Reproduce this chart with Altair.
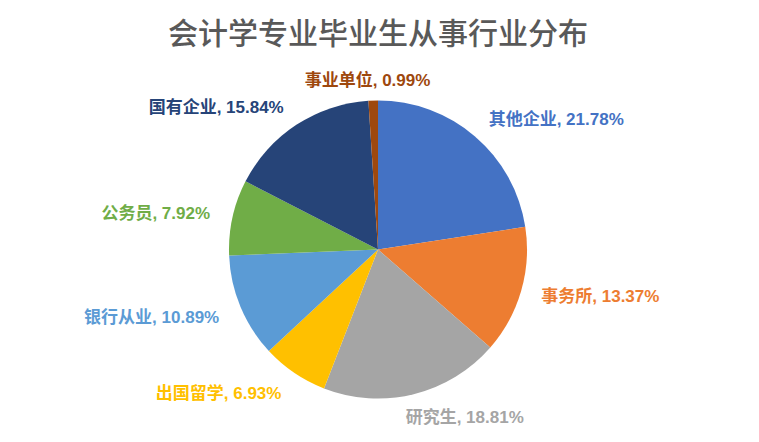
import altair as alt
import pandas as pd

categories = ["其他企业", "事务所", "研究生", "出国留学", "银行从业", "公务员", "国有企业", "事业单位"]
values = [21.78, 13.37, 18.81, 6.93, 10.89, 7.92, 15.84, 0.99]
colors = ["#4472C4", "#ED7D31", "#A5A5A5", "#FFC000", "#5B9BD5", "#70AD47", "#264478", "#9E480E"]
title_text = "会计学专业毕业生从事行业分布"

df = pd.DataFrame({"category": categories, "value": values, "idx": list(range(len(categories)))})
df["label"] = [f"{c}, {v:.2f}%" for c, v in zip(categories, values)]
total = float(sum(values))

FONT = "Liberation Sans, Noto Sans CJK SC"
theta_scale = alt.Scale(domain=[0, total])
color_scale = alt.Scale(domain=categories, range=colors)

base = alt.Chart(df)

pie = base.mark_arc(outerRadius=149).encode(
    theta=alt.Theta("value:Q", stack=True, scale=theta_scale),
    color=alt.Color("category:N", scale=color_scale, legend=None),
    order=alt.Order("idx:Q"),
)

lab_base = base.transform_window(
    cum="sum(value)", sort=[alt.SortField("idx")]
).transform_calculate(mid="datum.cum - datum.value / 2")


def labels(expr, align, radius, dx=0, dy=0):
    return lab_base.transform_filter(expr).mark_text(
        radius=radius, align=align, baseline="middle", dx=dx, dy=dy,
        font=FONT, fontSize=17, fontWeight="bold",
    ).encode(
        theta=alt.Theta("mid:Q", scale=theta_scale),
        text="label:N",
        color=alt.Color("category:N", scale=color_scale, legend=None),
    )


right = labels(f"datum.mid < {total * 0.4}", "left", 170)
bottom = labels(f"datum.mid >= {total * 0.4} && datum.mid < {total * 0.5}", "left", 170, dx=-13, dy=3)
left = labels(f"datum.mid >= {total * 0.5} && datum.mid < {total * 0.95}", "right", 172, dy=2)
top = labels(f"datum.mid >= {total * 0.95}", "center", 170, dx=-5, dy=1)

chart = alt.layer(pie, right, bottom, left, top).properties(
    width=740,
    height=363,
    autosize=alt.AutoSizeParams(type="none"),
    padding={"left": 0, "top": 60, "right": 0, "bottom": 0},
    title=alt.TitleParams(
        text=title_text, fontSize=30, color="#595959", font="Noto Sans CJK SC",
        fontWeight=500, anchor="middle", frame="group", offset=18,
    ),
).configure_view(stroke=None)

chart.save("out.html", embed_options={"renderer": "svg", "actions": False})
